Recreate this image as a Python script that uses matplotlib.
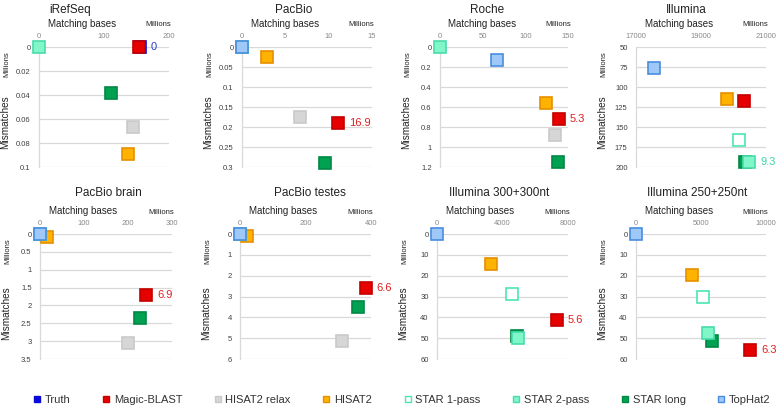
import matplotlib
matplotlib.use("Agg")
import matplotlib.pyplot as plt
from matplotlib.lines import Line2D
from matplotlib.transforms import offset_copy

plt.rcParams['font.family'] = ['Liberation Sans', 'DejaVu Sans']

# colours per aligner: (fill, edge)
styles = {
    'Truth': ('#0a0ad8', '#0a0ad8'),
    'Magic-BLAST': ('#e60000', '#c40000'),
    'HISAT2 relax': ('#d6d6d6', '#c9c9c9'),
    'HISAT2': ('#ffb300', '#e69000'),
    'STAR 1-pass': ('white', '#4ce6b2'),
    'STAR 2-pass': ('#80f6c9', '#48dcaa'),
    'STAR long': ('#00a252', '#008844'),
    'TopHat2': ('#9dc8f7', '#4a8de0'),
}
legend_order = ['Truth', 'Magic-BLAST', 'HISAT2 relax', 'HISAT2',
                'STAR 1-pass', 'STAR 2-pass', 'STAR long', 'TopHat2']

# --- data (millions of matching bases, millions of mismatches) ---
irefseq_m = ['STAR 2-pass', 'Truth', 'Magic-BLAST', 'STAR long', 'HISAT2 relax', 'HISAT2']
irefseq_x = [0, 156, 154, 111, 145, 136.5]
irefseq_y = [0, 0, 0, 0.0387, 0.0666, 0.0888]

pacbio_m = ['STAR 2-pass', 'TopHat2', 'HISAT2', 'HISAT2 relax', 'Magic-BLAST', 'STAR long']
pacbio_x = [0.05, 0, 2.9, 6.7, 11.1, 9.6]
pacbio_y = [0, 0, 0.024, 0.174, 0.191, 0.289]

roche_m = ['STAR 2-pass', 'TopHat2', 'HISAT2', 'Magic-BLAST', 'HISAT2 relax', 'STAR long']
roche_x = [0, 66.8, 124, 139, 134.8, 138]
roche_y = [0, 0.13, 0.563, 0.72, 0.88, 1.153]

illumina_m = ['TopHat2', 'HISAT2', 'Magic-BLAST', 'STAR 1-pass', 'STAR long', 'STAR 2-pass']
illumina_x = [17554, 19800, 20314, 20169, 20355, 20477]
illumina_y = [76.6, 115, 117.5, 166.6, 193.5, 193.75]

brain_m = ['HISAT2', 'STAR 2-pass', 'TopHat2', 'Magic-BLAST', 'STAR long', 'HISAT2 relax']
brain_x = [15, 1, 0, 241, 227, 200.7]
brain_y = [0.075, 0, 0, 1.70, 2.34, 3.06]

testes_m = ['HISAT2', 'STAR 2-pass', 'TopHat2', 'Magic-BLAST', 'STAR long', 'HISAT2 relax']
testes_x = [22, 1, 0, 384, 361, 310]
testes_y = [0.1, 0, 0, 2.6, 3.52, 5.14]

ill300_m = ['TopHat2', 'HISAT2', 'STAR 1-pass', 'Magic-BLAST', 'STAR long', 'STAR 2-pass']
ill300_x = [0, 3280, 4600, 7310, 4900, 4960]
ill300_y = [0, 14.5, 28.6, 41.3, 48.8, 50.1]

ill250_m = ['TopHat2', 'HISAT2', 'STAR 1-pass', 'STAR long', 'STAR 2-pass', 'Magic-BLAST']
ill250_x = [0, 4300, 5180, 5850, 5540, 8790]
ill250_y = [0, 19.8, 30.2, 51.4, 47.7, 55.7]

titles = ['iRefSeq', 'PacBio', 'Roche', 'Illumina',
          'PacBio brain', 'PacBio testes', 'Illumina 300+300nt', 'Illumina 250+250nt']
xticks = [[0, 100, 200], [0, 5, 10, 15], [0, 50, 100, 150], [17000, 19000, 21000],
          [0, 100, 200, 300], [0, 200, 400], [0, 4000, 8000], [0, 5000, 10000]]
yticks = [[0, 0.02, 0.04, 0.06, 0.08, 0.1], [0, 0.05, 0.1, 0.15, 0.2, 0.25, 0.3],
          [0, 0.2, 0.4, 0.6, 0.8, 1, 1.2], [50, 75, 100, 125, 150, 175, 200],
          [0, 0.5, 1, 1.5, 2, 2.5, 3, 3.5], [0, 1, 2, 3, 4, 5, 6],
          [0, 10, 20, 30, 40, 50, 60], [0, 10, 20, 30, 40, 50, 60]]
# value label: (method it sits next to, text, colour)
labels = [('Magic-BLAST', '0', '#2a3fd0'), ('Magic-BLAST', '16.9', '#e02020'),
          ('Magic-BLAST', '5.3', '#e02020'), ('STAR 2-pass', '9.3', '#3ad9a4'),
          ('Magic-BLAST', '6.9', '#e02020'), ('Magic-BLAST', '6.6', '#e02020'),
          ('Magic-BLAST', '5.6', '#e02020'), ('Magic-BLAST', '6.3', '#e02020')]

series = [(irefseq_m, irefseq_x, irefseq_y), (pacbio_m, pacbio_x, pacbio_y),
          (roche_m, roche_x, roche_y), (illumina_m, illumina_x, illumina_y),
          (brain_m, brain_x, brain_y), (testes_m, testes_x, testes_y),
          (ill300_m, ill300_x, ill300_y), (ill250_m, ill250_x, ill250_y)]

W, H = 778, 407
fig = plt.figure(figsize=(W / 100, H / 100), dpi=100)

# axes boxes in pixels: left, right, top, bottom
boxes = [(39, 169, 47, 167), (242, 372, 47, 167), (440, 568, 47, 167), (636, 766, 47, 167),
         (40, 172, 234, 359), (240, 371, 234, 359), (437, 568, 234, 359), (636, 766, 234, 359)]
title_pos = [(70, 10), (294, 10), (487, 10), (686, 10),
             (108, 193), (310, 193), (499, 193), (697, 193)]

for i in range(8):
    l, r, t, b = boxes[i]
    ax = fig.add_axes([l / W, 1 - b / H, (r - l) / W, (b - t) / H])
    meths, xs, ys = series[i]
    for m, x, y in zip(meths, xs, ys):
        fc, ec = styles[m]
        ax.plot(x, y, 's', ms=8, mfc=fc, mec=ec, mew=1.2, clip_on=False, zorder=3)
    lm, txt, col = labels[i]
    j = meths.index(lm)
    ax.annotate(txt, (xs[j], ys[j]), xytext=(8, 0), textcoords='offset points',
                ha='left', va='center', fontsize=8, color=col, annotation_clip=False)

    xt, yt = xticks[i], yticks[i]
    ax.set_xlim(xt[0], xt[-1])
    ax.set_ylim(yt[-1], yt[0])
    ax.set_xticks(xt)
    ax.set_yticks(yt)
    ax.set_xticklabels([f'{v:g}' for v in xt])
    ax.set_yticklabels([f'{v:g}' for v in yt])
    ax.xaxis.tick_top()
    ax.tick_params(axis='x', length=0, pad=5, labelsize=5.5, labelcolor='#8a8a8a')
    ax.tick_params(axis='y', length=0, pad=6, labelsize=5.5, labelcolor='#404040')
    for s in ['top', 'right', 'bottom']:
        ax.spines[s].set_visible(False)
    ax.spines['left'].set_color('#d9d9d9')
    ax.spines['left'].set_linewidth(0.9)
    ax.yaxis.grid(True, color='#d9d9d9', lw=0.9)
    ax.set_axisbelow(True)

    ax.text(0.33, 1, 'Matching bases', transform=offset_copy(ax.transAxes, fig, y=23, units='dots'),
            ha='center', va='center', fontsize=7, color='#222222')
    ax.text(0.92, 1, 'Millions', transform=offset_copy(ax.transAxes, fig, y=22, units='dots'),
            ha='center', va='center', fontsize=5.5, color='#222222')
    ax.text(0, 0.37, 'Mismatches', transform=offset_copy(ax.transAxes, fig, x=-34, units='dots'),
            ha='center', va='center', rotation=90, fontsize=7.2, color='#222222')
    ax.text(0, 0.86, 'Millions', transform=offset_copy(ax.transAxes, fig, x=-32, units='dots'),
            ha='center', va='center', rotation=90, fontsize=5.5, color='#222222')

    tx, ty = title_pos[i]
    fig.text(tx / W, 1 - ty / H, titles[i], ha='center', va='center', fontsize=8.5, color='#222222')

handles = []
for m in legend_order:
    fc, ec = styles[m]
    handles.append(Line2D([], [], marker='s', ls='none', ms=4.5, mfc=fc, mec=ec, mew=1))
fig.legend(handles, legend_order, loc='center', bbox_to_anchor=(402 / W, 1 - 400 / H),
           ncol=8, frameon=False, fontsize=8, handlelength=0.6, handletextpad=0.4,
           columnspacing=2.9, labelcolor='#333333')

fig.savefig('out.png', dpi=100)
